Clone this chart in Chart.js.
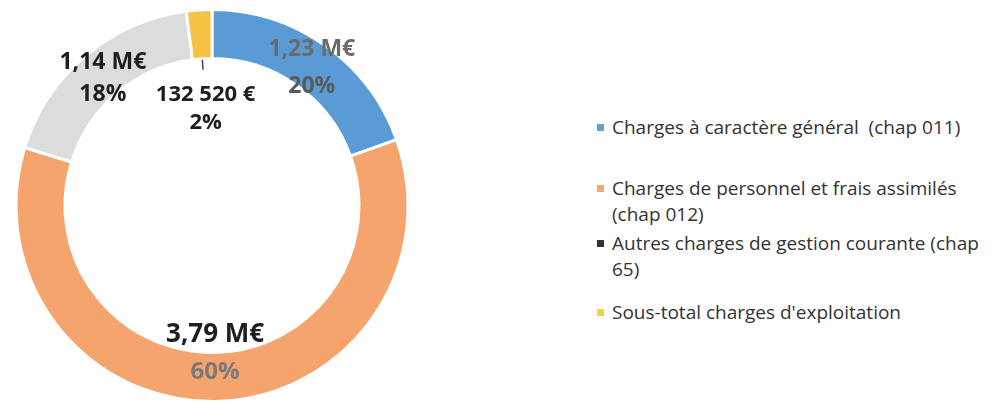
<!DOCTYPE html>
<html>
<head>
<meta charset="utf-8">
<script src="https://cdn.jsdelivr.net/npm/chart.js@4"></script>
<style>
  html,body{margin:0;padding:0;background:#fff;}
  #wrap{position:relative;width:998px;height:403px;overflow:hidden;}
  #cv{position:absolute;left:0;top:0;}
  #legend{position:absolute;left:597px;top:0;font-family:"Open Sans","Noto Sans",sans-serif;font-size:19px;color:#333;}
  .item{position:absolute;left:0;width:400px;line-height:26px;}
  .mk{position:absolute;left:0;width:7px;height:7px;}
  .tx{position:absolute;left:15px;white-space:pre;}
</style>
</head>
<body>
<div id="wrap">
  <canvas id="cv" width="424" height="403"></canvas>
  <div id="legend"></div>
</div>
<script>
const categories = [
  "Charges à caractère général  (chap 011)",
  "Charges de personnel et frais assimilés (chap 012)",
  "Autres charges de gestion courante (chap 65)",
  "Sous-total charges d'exploitation"
];
const legendLines = [
  ["Charges à caractère général  (chap 011)"],
  ["Charges de personnel et frais assimilés", "(chap 012)"],
  ["Autres charges de gestion courante (chap", "65)"],
  ["Sous-total charges d'exploitation"]
];
const values = [1230000, 3790000, 1140000, 132520];
const valueLabels = ["1,23 M€", "3,79 M€", "1,14 M€", "132 520 €"];
const percentLabels = ["20%", "60%", "18%", "2%"];
const colors = ["#5b9bd5", "#f4a46c", "#dcdcdc", "#f5c242"];
const legendMarkers = ["#5ba3d9", "#f4a57a", "#333333", "#f2d24a"];

// legend (HTML)
const legendTops = [114, 175, 230, 299];
const lg = document.getElementById('legend');
legendLines.forEach((lines, i) => {
  const it = document.createElement('div');
  it.className = 'item';
  it.style.top = legendTops[i] + 'px';
  const mk = document.createElement('div');
  mk.className = 'mk';
  mk.style.background = legendMarkers[i];
  mk.style.top = '10px';
  it.appendChild(mk);
  const tx = document.createElement('div');
  tx.className = 'tx';
  tx.textContent = lines.join('\n');
  it.appendChild(tx);
  lg.appendChild(it);
});

const labelPlugin = {
  id: 'sliceLabels',
  afterDatasetsDraw(chart, args, opts) {
    const ctx = chart.ctx;
    const meta = chart.getDatasetMeta(0);
    meta.data.forEach((arc, i) => {
      const mid = (arc.startAngle + arc.endAngle) / 2;
      const r = opts.radii[i];
      const x = arc.x + Math.cos(mid) * r + opts.dx[i];
      const y = arc.y + Math.sin(mid) * r;
      const g = opts.gaps[i] / 2;
      ctx.save();
      ctx.textAlign = 'center';
      ctx.textBaseline = 'middle';
      ctx.font = 'bold ' + opts.valueSizes[i] + 'px "Open Sans", "Noto Sans", sans-serif';
      ctx.fillStyle = opts.valueColors[i];
      ctx.fillText(valueLabels[i], x, y - g);
      ctx.font = 'bold ' + opts.pctSizes[i] + 'px "Open Sans", "Noto Sans", sans-serif';
      ctx.fillStyle = opts.pctColors[i];
      ctx.fillText(percentLabels[i], x, y + g);
      ctx.restore();
    });
    // leader line for small slice
    const a = meta.data[3];
    const mid = (a.startAngle + a.endAngle) / 2;
    ctx.save();
    ctx.strokeStyle = '#444';
    ctx.lineWidth = 1.5;
    ctx.beginPath();
    ctx.moveTo(a.x + Math.cos(mid) * 146, a.y + Math.sin(mid) * 146);
    ctx.lineTo(a.x + Math.cos(mid) * 136, a.y + Math.sin(mid) * 136);
    ctx.stroke();
    ctx.restore();
  }
};

new Chart(document.getElementById('cv'), {
  type: 'doughnut',
  data: {
    labels: categories,
    datasets: [{
      data: values,
      backgroundColor: colors,
      borderColor: '#ffffff',
      borderWidth: 3
    }]
  },
  options: {
    responsive: false,
    animation: false,
    cutout: '75%',
    layout: { padding: { top: 8, bottom: 0, left: 0, right: 0 } },
    plugins: {
      legend: { display: false },
      tooltip: { enabled: false },
      sliceLabels: {
        radii: [168, 148, 166, 97],
        dx: [3, 0, -2, 0],
        gaps: [37, 37, 32, 28],
        valueSizes: [23, 26, 23, 22],
        pctSizes: [23, 24, 23, 22],
        valueColors: ['#6b6b6b', '#1e1e1e', '#1e1e1e', '#1e1e1e'],
        pctColors: ['#5a5a5a', '#7a7a7a', '#1e1e1e', '#1e1e1e']
      }
    }
  },
  plugins: [labelPlugin]
});
</script>
</body>
</html>
